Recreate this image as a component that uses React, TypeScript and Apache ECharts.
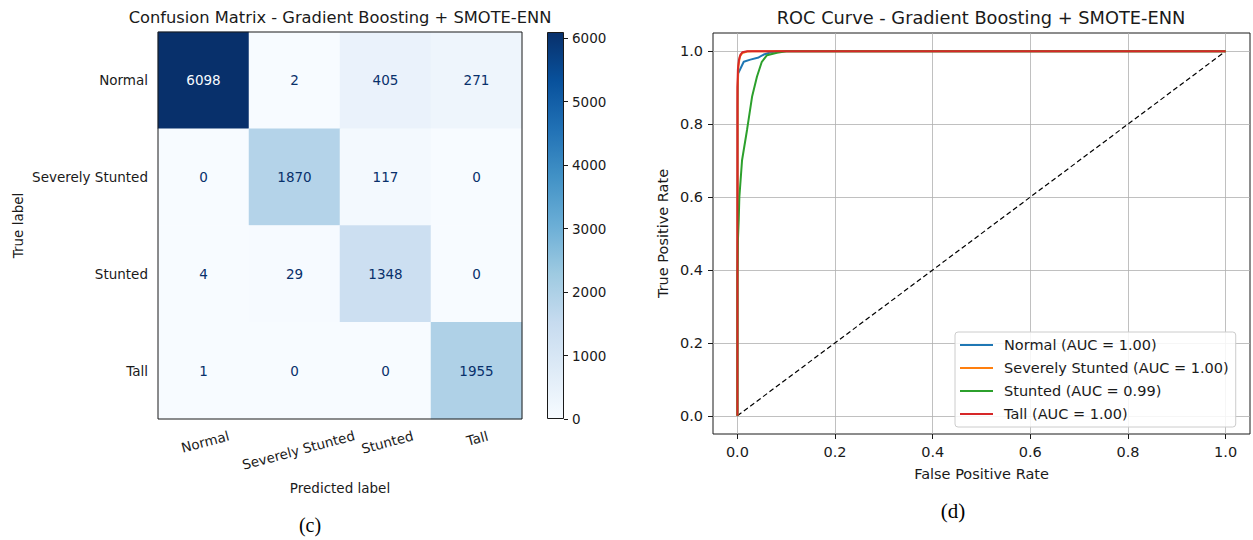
import React, { useEffect, useRef } from 'react';
import * as echarts from 'echarts';

const CLASSES = ['Normal', 'Severely Stunted', 'Stunted', 'Tall'];
const CM_ROWS = [
  [6098, 2, 405, 271],
  [0, 1870, 117, 0],
  [4, 29, 1348, 0],
  [1, 0, 0, 1955],
];
const COLORBAR_TICKS = [0, 1000, 2000, 3000, 4000, 5000, 6000];
const ROC_TICKS = [0, 0.2, 0.4, 0.6, 0.8, 1.0];
const BLUES = ['#f7fbff', '#deebf7', '#c6dbef', '#9ecae1', '#6baed6', '#4292c6', '#2171b5', '#08519c', '#08306b'];

const NORMAL_FPR = [0, 0.0005, 0.0014, 0.013, 0.0265, 0.0435, 0.054, 0.067, 0.08, 1];
const NORMAL_TPR = [0, 0.85, 0.939, 0.971, 0.977, 0.983, 0.991, 0.9965, 1, 1];
const SEVERE_FPR = [0, 0.0005, 0.002, 0.005, 0.01, 0.02, 0.03, 1];
const SEVERE_TPR = [0, 0.9, 0.96, 0.985, 0.995, 0.999, 1, 1];
const STUNTED_FPR = [0, 0, 0.001, 0.0027, 0.004, 0.0095, 0.0197, 0.03, 0.04, 0.05, 0.0606, 0.081, 0.1, 1];
const STUNTED_TPR = [0, 0.38, 0.48, 0.537, 0.6, 0.701, 0.784, 0.875, 0.93, 0.971, 0.989, 0.996, 1, 1];
const TALL_FPR = [0, 0, 0.001, 0.003, 0.006, 0.01, 0.02, 1];
const TALL_TPR = [0, 0.9, 0.95, 0.975, 0.99, 0.997, 1, 1];
const DIAG_FPR = [0, 1];
const DIAG_TPR = [0, 1];
const AUC = ['1.00', '1.00', '0.99', '1.00'];
const ROC_COLORS = ['#1f77b4', '#ff7f0e', '#2ca02c', '#d62728'];

const FONT = 'DejaVu Sans';
const TXT = '#1a1a1a';
const CM_FS = 13.5;
const ROC_FS = 14.5;
const ROT = 15;

export default function App() {
  const ref = useRef<HTMLDivElement>(null);
  useEffect(() => {
    document.body.style.margin = '0';
    const chart = echarts.init(ref.current!, null, { renderer: 'svg' });
    const cmMax = Math.max(...CM_ROWS.flat());
    const cmMin = Math.min(...CM_ROWS.flat());
    const thresh = (cmMax + cmMin) / 2;
    const heatData: any[] = [];
    CM_ROWS.forEach((row, r) =>
      row.forEach((v, c) => {
        heatData.push({ value: [c, r, v], label: { color: v < thresh ? BLUES[8] : BLUES[0] } });
      })
    );
    // matplotlib centres the rotated label's bounding box under its tick:
    // push each label down by half the extra height its rotation adds,
    // using an invisible spacer line above the text.
    const ctx = document.createElement('canvas').getContext('2d')!;
    ctx.font = `${CM_FS}px "${FONT}"`;
    const s = Math.sin((ROT * Math.PI) / 180);
    const rich: any = {};
    CLASSES.forEach((c, i) => {
      const w = ctx.measureText(c).width;
      rich['g' + i] = { height: Math.max(1, w * s), fontSize: 1, lineHeight: Math.max(1, w * s) };
      rich['t' + i] = { fontSize: CM_FS, fontFamily: FONT, color: TXT, lineHeight: 16 };
    });
    const rocSets = [
      [NORMAL_FPR, NORMAL_TPR],
      [SEVERE_FPR, SEVERE_TPR],
      [STUNTED_FPR, STUNTED_TPR],
      [TALL_FPR, TALL_TPR],
    ];
    const names = CLASSES.map((c, i) => `${c} (AUC = ${AUC[i]})`);
    const rocSeries = rocSets.map(([f, t], i) => ({
      type: 'line',
      name: names[i],
      xAxisIndex: 2,
      yAxisIndex: 2,
      data: f.map((x, k) => [x, t[k]]),
      showSymbol: false,
      symbol: 'none',
      color: ROC_COLORS[i],
      lineStyle: { color: ROC_COLORS[i], width: 2 },
      z: 3 + i,
      silent: true,
    }));
    const gradStops = BLUES.slice().reverse().map((c, i) => ({ offset: i / (BLUES.length - 1), color: c }));
    const lbl = { fontSize: CM_FS, color: TXT, fontFamily: FONT };
    const rocLbl = { fontSize: ROC_FS, color: TXT, fontFamily: FONT };
    const option: any = {
      animation: false,
      textStyle: { fontFamily: FONT },
      graphic: [
        { type: 'text', x: 340, y: 17, style: { text: 'Confusion Matrix - Gradient Boosting + SMOTE-ENN', fontSize: 16.3, fontFamily: FONT, fill: TXT, align: 'center', verticalAlign: 'middle' } },
        { type: 'text', x: 981, y: 17, style: { text: 'ROC Curve - Gradient Boosting + SMOTE-ENN', fontSize: 17.8, fontFamily: FONT, fill: TXT, align: 'center', verticalAlign: 'middle' } },
        { type: 'text', x: 310, y: 525, style: { text: '(c)', fontSize: 20, fontFamily: 'Liberation Serif', fill: '#000', align: 'center', verticalAlign: 'middle' } },
        { type: 'text', x: 953, y: 511, style: { text: '(d)', fontSize: 21, fontFamily: 'Liberation Serif', fill: '#000', align: 'center', verticalAlign: 'middle' } },
      ],
      grid: [
        { left: 158, top: 32, width: 364, height: 387, show: true, z: 10, backgroundColor: 'transparent', borderColor: TXT, borderWidth: 1 },
        { left: 547, top: 32, width: 17, height: 387 },
        { left: 713, top: 33, width: 537, height: 401, show: true, backgroundColor: 'transparent', borderColor: TXT, borderWidth: 1 },
      ],
      xAxis: [
        {
          gridIndex: 0, type: 'category', data: CLASSES,
          axisLine: { show: false, onZero: false },
          axisTick: { alignWithLabel: true, length: 4, lineStyle: { color: TXT } },
          axisLabel: {
            ...lbl, rotate: ROT, align: 'center', verticalAlign: 'middle', margin: 16.5,
            formatter: (v: string, i: number) => `{g${i}| }\n{t${i}|${v}}`,
            rich,
          },
          splitLine: { show: false },
          name: 'Predicted label', nameLocation: 'middle', nameGap: 62, nameTextStyle: lbl,
          z: 12,
        },
        { gridIndex: 1, type: 'category', data: ['bar'], show: false },
        {
          gridIndex: 2, type: 'value', min: -0.05, max: 1.05,
          axisLine: { show: false, onZero: false },
          axisTick: { show: true, customValues: ROC_TICKS, length: 5, lineStyle: { color: TXT } },
          axisLabel: { ...rocLbl, customValues: ROC_TICKS, margin: 10, formatter: (v: number) => v.toFixed(1) },
          splitLine: { show: true, lineStyle: { color: '#b0b0b0', width: 0.8 } },
          name: 'False Positive Rate', nameLocation: 'middle', nameGap: 32, nameTextStyle: rocLbl,
        },
      ],
      yAxis: [
        {
          gridIndex: 0, type: 'category', data: CLASSES, inverse: true,
          axisLine: { show: false, onZero: false },
          axisTick: { alignWithLabel: true, length: 4, lineStyle: { color: TXT } },
          axisLabel: { ...lbl, margin: 10 },
          splitLine: { show: false },
          name: 'True label', nameLocation: 'middle', nameGap: 133, nameTextStyle: lbl,
          z: 12,
        },
        {
          gridIndex: 1, type: 'value', position: 'right', min: 0, max: cmMax,
          axisLine: { show: false, onZero: false },
          axisTick: { show: true, customValues: COLORBAR_TICKS, length: 4, lineStyle: { color: TXT } },
          axisLabel: { ...lbl, customValues: COLORBAR_TICKS, margin: 8, formatter: (v: number) => String(v) },
          splitLine: { show: false },
        },
        {
          gridIndex: 2, type: 'value', min: -0.05, max: 1.05,
          axisLine: { show: false, onZero: false },
          axisTick: { show: true, customValues: ROC_TICKS, length: 5, lineStyle: { color: TXT } },
          axisLabel: { ...rocLbl, customValues: ROC_TICKS, margin: 10, formatter: (v: number) => v.toFixed(1) },
          splitLine: { show: true, lineStyle: { color: '#b0b0b0', width: 0.8 } },
          name: 'True Positive Rate', nameLocation: 'middle', nameGap: 43, nameTextStyle: rocLbl,
        },
      ],
      visualMap: [
        { type: 'continuous', show: false, min: 0, max: cmMax, seriesIndex: 0, dimension: 2, inRange: { color: BLUES } },
      ],
      legend: {
        data: names, orient: 'vertical', left: 955, top: 332,
        itemWidth: 33, itemHeight: 2, icon: 'rect', itemGap: 7,
        padding: [5, 7, 5, 5],
        backgroundColor: 'rgba(255,255,255,0.85)', borderColor: '#cccccc', borderWidth: 1, borderRadius: 3,
        textStyle: { ...rocLbl, lineHeight: 16, padding: [0, 0, 0, 6] },
        selectedMode: false,
      },
      series: [
        {
          type: 'heatmap', xAxisIndex: 0, yAxisIndex: 0, data: heatData,
          label: { show: true, fontSize: CM_FS, fontFamily: FONT },
          emphasis: { disabled: true }, silent: true,
        },
        {
          type: 'bar', xAxisIndex: 1, yAxisIndex: 1, data: [cmMax], barWidth: '100%', silent: true,
          itemStyle: { color: new echarts.graphic.LinearGradient(0, 0, 0, 1, gradStops), borderColor: TXT, borderWidth: 1 },
        },
        {
          type: 'line', xAxisIndex: 2, yAxisIndex: 2,
          data: DIAG_FPR.map((x, k) => [x, DIAG_TPR[k]]),
          showSymbol: false, symbol: 'none', silent: true,
          lineStyle: { color: '#000', width: 1.2, type: [5, 3] }, z: 2,
        },
        ...rocSeries,
      ],
    };
    chart.setOption(option);
    return () => chart.dispose();
  }, []);
  return <div ref={ref} style={{ width: 1253, height: 540 }} />;
}
